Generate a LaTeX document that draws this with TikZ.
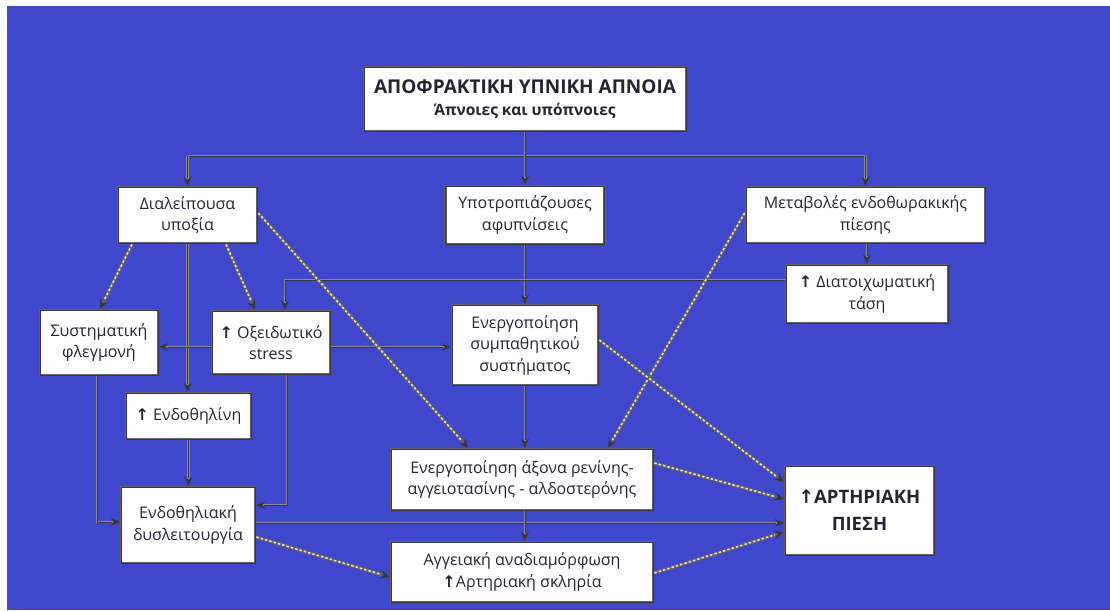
\documentclass[tikz,border=0pt]{standalone}
\usepackage{fontspec}
\setmainfont{Open Sans}
\newfontfamily\arrowfont{DejaVu Sans}
\usetikzlibrary{arrows.meta,calc}
\definecolor{bgblue}{RGB}{63,72,204}
\definecolor{ink}{RGB}{36,36,52}
\definecolor{wire}{RGB}{140,140,140}
\definecolor{wirecore}{RGB}{55,55,55}
\definecolor{hatch}{RGB}{225,225,225}
\definecolor{frame}{RGB}{100,100,100}
\newcommand\uparr{{\arrowfont\bfseries\char"2191}}
\begin{document}
\begin{tikzpicture}[x=1pt,y=-1pt,
  >={Stealth[length=9pt,width=8pt,color=wirecore]},
  box/.style={rectangle, fill=white, draw=frame, line width=2.6pt,
    inner sep=0pt, align=center, text=ink,
    font=\fontsize{16}{21.5}\selectfont,
    postaction={draw=wirecore, line width=0.8pt}},
  plainwire/.style={draw=wire, line width=2.8pt,
    postaction={draw=wirecore, line width=0.8pt}},
  wire/.style={draw=wire, line width=2.8pt, ->,
    postaction={draw=wirecore, line width=0.8pt, arrows=-, shorten >=8pt}},
  stripe/.style={draw=wirecore!80!white, line width=3.8pt, ->,
    postaction={draw=hatch, line width=1.6pt, dash pattern=on 2.5pt off 2pt,
      arrows=-, shorten >=9pt}}]

% canvas
\fill[white] (0,0) rectangle (1110,610);
\useasboundingbox (0,0) rectangle (1110,610);
\fill[bgblue] (7,6) rectangle (1110,610);

% boxes
\node[box, minimum width=322pt, minimum height=64pt] (top) at (525,99)
  {{\fontsize{19}{27}\selectfont\bfseries ΑΠΟΦΡΑΚΤΙΚΗ ΥΠΝΙΚΗ ΑΠΝΟΙΑ}\\
   {\fontsize{15.5}{21}\selectfont\bfseries Άπνοιες και υπόπνοιες}};
\node[box, minimum width=139pt, minimum height=56pt] (dial) at (187.5,215)
  {Διαλείπουσα\\υποξία};
\node[box, minimum width=159pt, minimum height=58pt] (ypotr) at (525,215)
  {Υποτροπιάζουσες\\αφυπνίσεις};
\node[box, minimum width=239pt, minimum height=56pt] (metab) at (865.5,215)
  {Μεταβολές ενδοθωρακικής\\πίεσης};
\node[box, minimum width=162pt, minimum height=58pt] (diatoix) at (867,294)
  {\uparr\ Διατοιχωματική\\τάση};
\node[box, minimum width=118pt, minimum height=65pt] (syst) at (99,342.5)
  {Συστηματική\\φλεγμονή};
\node[box, minimum width=118pt, minimum height=63pt] (oxeid) at (271,342.5)
  {\uparr\ Οξειδωτικό\\stress};
\node[box, minimum width=146pt, minimum height=80pt] (symp) at (525,345)
  {Ενεργοποίηση\\συμπαθητικού\\συστήματος};
\node[box, minimum width=125pt, minimum height=46pt] (endothilini) at (188.5,416)
  {\uparr\ Ενδοθηλίνη};
\node[box, minimum width=134pt, minimum height=76pt] (endodysl) at (188,525)
  {Ενδοθηλιακή\\δυσλειτουργία};
\node[box, minimum width=262pt, minimum height=61pt] (renin) at (522,479.5)
  {Ενεργοποίηση άξονα ρενίνης-\\αγγειοτασίνης - αλδοστερόνης};
\node[box, minimum width=262pt, minimum height=60pt] (aggeiaki) at (522,572)
  {Αγγειακή αναδιαμόρφωση\\\uparr Αρτηριακή σκληρία};
\node[box, minimum width=149pt, minimum height=89pt,
      font=\fontsize{18.5}{27}\selectfont\bfseries] (bp) at (859.5,510.5)
  {\uparr ΑΡΤΗΡΙΑΚΗ\\ΠΙΕΣΗ};

% distribution bus below the title
\coordinate (bus) at (525,156);
\draw[plainwire] (bus -| dial.north) -- (bus -| metab.north);
\draw[wire] (top.south) -- (ypotr.north);
\draw[wire] (bus -| dial.north) -- (dial.north);
\draw[wire] (bus -| metab.north) -- (metab.north);

% solid links
\draw[wire] (metab.south -| diatoix.north) -- (diatoix.north);
\draw[wire] (dial.south) -- (dial.south |- endothilini.north);
\draw[wire] (ypotr.south) -- (symp.north);
\draw[wire] ([yshift=14pt]diatoix.west) -| ([xshift=14pt]oxeid.north);
\draw[wire] ([yshift=-4.5pt]oxeid.west) -- ([yshift=-4.5pt]syst.east);
\draw[wire] ([yshift=-4.5pt]oxeid.east) -- ([yshift=-2pt]symp.west);
\draw[wire] ([xshift=16pt]oxeid.south) |- ([yshift=20pt]endodysl.east);
\draw[wire] ([xshift=-2pt]syst.south) |- ([yshift=3pt]endodysl.west);
\draw[wire] (endothilini.south) -- (endothilini.south |- endodysl.north);
\draw[wire] ([yshift=2pt]endodysl.east) -- ([yshift=2pt]endodysl.east -| bp.west);
\draw[wire] (symp.south) -- (symp.south |- renin.north);
\draw[wire] (renin.south -| symp.south) -- (aggeiaki.north -| symp.south);

% hatched links
\draw[stripe] ([xshift=-55.5pt]dial.south) -- ([xshift=1pt]syst.north);
\draw[stripe] ([xshift=38.5pt]dial.south) -- ([xshift=-16pt]oxeid.north);
\draw[stripe] ([yshift=2pt]dial.east) -- ([xshift=-54pt]renin.north);
\draw[stripe] ([yshift=2pt]metab.west) -- ([xshift=86pt]renin.north);
\draw[stripe] ([yshift=5pt]symp.east) -- ([yshift=28.5pt]bp.west);
\draw[stripe] ([yshift=16.5pt]renin.east) -- ([yshift=11.5pt]bp.west);
\draw[stripe] ([yshift=-1pt]aggeiaki.east) -- ([yshift=-21.5pt]bp.west);
\draw[stripe] ([yshift=-12pt]endodysl.east) -- ([yshift=-5pt]aggeiaki.west);
\end{tikzpicture}
\end{document}
